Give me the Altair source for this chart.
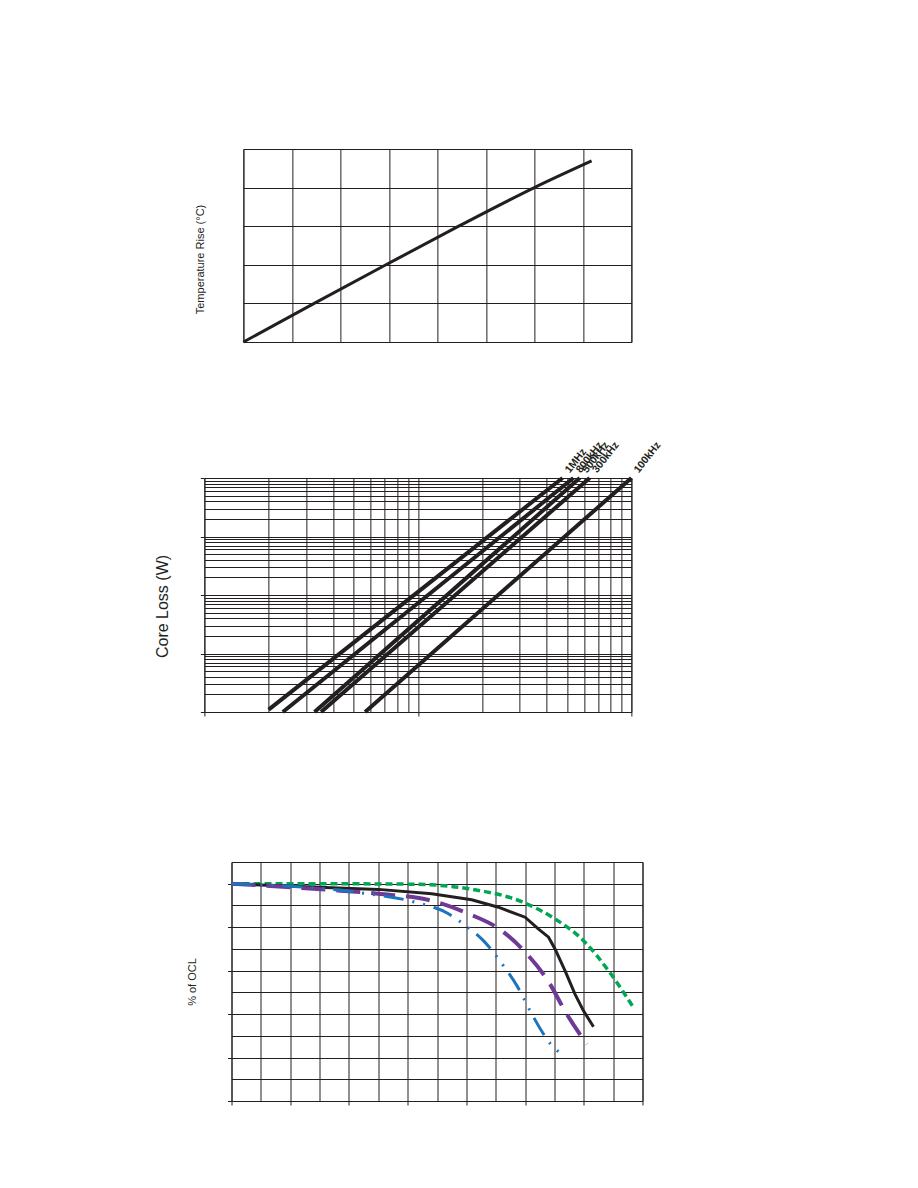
import altair as alt
import pandas as pd

# ---------------- data ----------------
# Panel 1: temperature rise (unlabelled x axis)
temp_x = [0, 1.46, 2.94, 4.44, 6.0, 7.18]
temp_y = [0, 1.0, 2.0, 3.0, 4.0, 4.69]

# Panel 2: core loss vs flux density (log-log), one straight line per frequency
freq_names = ["1MHz", "800kHz", "500kHz", "300kHz", "100kHz"]
flux_lo = [20.0, 23.3, 32.8, 35.2, 56.6]
flux_hi = [476, 535, 573, 638, 1000]
loss_lo = [0.011, 0.01, 0.01, 0.01, 0.01]
loss_hi = [100, 100, 100, 100, 100]

# Panel 3: % of OCL curves
green_x = [0, 30, 50, 60.2, 68.2, 80.7, 100, 110.2, 119.9, 128.4, 136.9]
green_y = [100, 100, 99.9, 99.8, 99.5, 97.7, 91.1, 83.8, 73.8, 60, 43.1]
black_x = [0, 27.3, 50, 68.2, 81.8, 90.9, 100, 104.5, 108, 110.2, 113.6, 117, 119.9, 123.3]
black_y = [100, 98.5, 97.4, 95.4, 92.6, 89.2, 84.6, 79.2, 75.4, 70, 60, 49.2, 41.5, 34.2]
purple_x = [0, 33, 50, 68.75, 80.7, 91.5, 100.6, 108, 114.2, 121]
purple_y = [100, 97.2, 95.4, 92, 86.2, 78.9, 67.7, 54.9, 40, 26.2]
blue_x = [0, 44.3, 62.5, 73.9, 80.1, 85.8, 88.6, 92.6, 97.2, 102.3, 106.3, 108.5, 113.1]
blue_y = [100, 95.8, 91.5, 86.2, 80.3, 73.8, 69.5, 62.3, 53.1, 40, 30.8, 26.5, 21.2]

INK = "#231f20"
FONT = "Liberation Sans"

# ---------------- panel 1 ----------------
df1 = pd.DataFrame({"x": temp_x, "y": temp_y})
p1 = alt.Chart(df1).mark_line(color=INK, strokeWidth=3, interpolate="monotone").encode(
    x=alt.X("x:Q", scale=alt.Scale(domain=[0, 8], nice=False),
            axis=alt.Axis(values=list(range(0, 9)), labels=False, ticks=False, title=None)),
    y=alt.Y("y:Q", scale=alt.Scale(domain=[0, 5], nice=False),
            axis=alt.Axis(values=list(range(0, 6)), labels=False, ticks=False,
                          title="Temperature Rise (°C)", titleFontSize=11,
                          titlePadding=38, titleY=110)),
).properties(width=388, height=193)

# ---------------- panel 2 ----------------
rows = []
for n, a, b, c, d in zip(freq_names, flux_lo, flux_hi, loss_lo, loss_hi):
    rows.append({"f": n, "x": a, "y": c})
    rows.append({"f": n, "x": b, "y": d})
df2 = pd.DataFrame(rows)
lab2 = pd.DataFrame({"f": freq_names, "x": flux_hi, "y": loss_hi})

flux_grid = [round(m * 10.0 ** e, 4) for e in (1, 2) for m in range(1, 10)] + [1000]
loss_grid = [round(m * 10.0 ** e, 4) for e in (-2, -1, 0, 1) for m in range(1, 10)] + [100]
decade_test = "abs(log(datum.value)/LN10 - round(log(datum.value)/LN10)) < 0.001"
dec_op = {"condition": {"test": decade_test, "value": 1}, "value": 0}

x2 = alt.X("x:Q", scale=alt.Scale(type="log", domain=[10, 1000], nice=False),
           axis=alt.Axis(values=flux_grid, labels=False, title=None, tickSize=4,
                         tickOpacity=dec_op))
y2 = alt.Y("y:Q", scale=alt.Scale(type="log", domain=[0.01, 100], nice=False),
           axis=alt.Axis(values=loss_grid, labels=False, title="Core Loss (W)",
                         titleFontSize=16, titlePadding=29, titleY=128, tickSize=4,
                         tickOpacity=dec_op))
# right-hand axis: no visible parts, only reserves layout room on the right
y2r = alt.Y("y:Q", scale=alt.Scale(type="log", domain=[0.01, 100], nice=False),
            axis=alt.Axis(orient="right", values=[100], labels=False, title=None,
                          grid=False, domain=False, tickSize=39, tickOpacity=0))

lines2 = alt.Chart(df2).mark_line(color=INK, strokeWidth=4, strokeCap="butt").encode(
    x=x2, y=y2, detail="f:N")
labels2 = alt.Chart(lab2).mark_text(
    angle=308, align="left", baseline="middle", dx=8, fontSize=10.5,
    fontWeight="bold", font=FONT, color=INK).encode(x=x2, y=y2r, text="f:N")
p2 = alt.layer(lines2, labels2).resolve_axis(y="independent").properties(
    width=427, height=234)

# ---------------- panel 3 ----------------
parts = []
for s, xs, ys in [("green", green_x, green_y), ("black", black_x, black_y),
                  ("purple", purple_x, purple_y), ("blue", blue_x, blue_y)]:
    for i, (a, b) in enumerate(zip(xs, ys)):
        parts.append({"s": s, "i": i, "x": a, "y": b})
df3 = pd.DataFrame(parts)

step20 = {"condition": {"test": "datum.value % 20 == 0", "value": 1}, "value": 0}
base3 = alt.Chart(df3).encode(
    x=alt.X("x:Q", scale=alt.Scale(domain=[0, 140], nice=False),
            axis=alt.Axis(values=list(range(0, 141, 10)), labels=False, title=None,
                          tickSize=4, tickOpacity=step20)),
    y=alt.Y("y:Q", scale=alt.Scale(domain=[0, 110], nice=False),
            axis=alt.Axis(values=list(range(0, 111, 10)), labels=False, title="% of OCL",
                          titleFontSize=11, titlePadding=30, tickSize=4,
                          tickOpacity=step20)),
    order="i:Q",
)
g = base3.transform_filter(alt.datum.s == "green").mark_line(
    color="#00a651", strokeWidth=3.5, strokeDash=[7, 4], interpolate="monotone")
k = base3.transform_filter(alt.datum.s == "black").mark_line(
    color=INK, strokeWidth=3)
pu = base3.transform_filter(alt.datum.s == "purple").mark_line(
    color="#6f3996", strokeWidth=4, strokeDash=[24, 11], interpolate="monotone")
bl = base3.transform_filter(alt.datum.s == "blue").mark_line(
    color="#1c75bc", strokeWidth=3, strokeDash=[20, 9, 2, 9, 2, 9], interpolate="monotone")
p3 = alt.layer(g, k, pu, bl).properties(width=411, height=239)

# ---------------- layout ----------------
top = alt.vconcat(p1, p2, spacing=90, center=True)
chart = alt.vconcat(top, p3, spacing=140, center=True).properties(
    padding={"top": 140, "left": 146, "right": 5, "bottom": 5}
).configure_view(stroke=INK, strokeWidth=1).configure_axis(
    domain=False, grid=True, gridColor=INK, gridWidth=1, gridOpacity=1,
    tickColor=INK, tickWidth=1, titleFont=FONT, titleFontWeight="normal",
    titleColor=INK,
)

chart.save("out.html", embed_options={"renderer": "svg", "actions": False})
